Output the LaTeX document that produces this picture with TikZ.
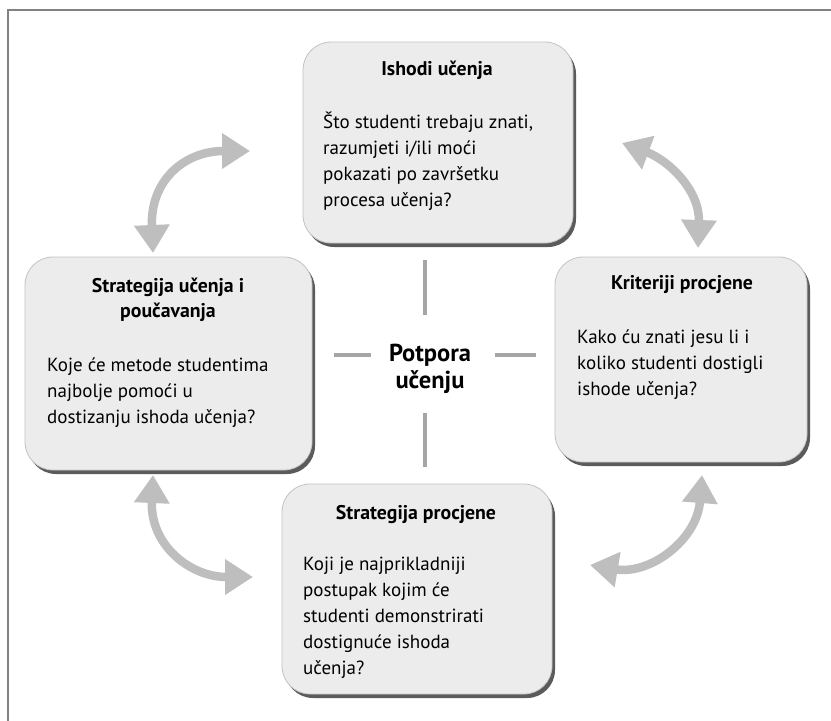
\documentclass[tikz,border=0pt]{standalone}
\usepackage{fontspec}
\setmainfont{PT Sans}
\usetikzlibrary{arrows.meta,shadows}
\definecolor{arrowgray}{RGB}{190,190,190}
\definecolor{spokegray}{RGB}{165,165,165}
\definecolor{boxfill}{RGB}{236,236,236}
\definecolor{boxline}{RGB}{195,195,195}
\definecolor{framegray}{RGB}{130,130,130}
\begin{document}
\begin{tikzpicture}[x=1pt,y=-1pt,
  box/.style={draw=boxline, line width=0.8pt, fill=boxfill, rounded corners=28pt,
    drop shadow={shadow xshift=3pt, shadow yshift=-4pt, fill=black!80, opacity=0.8},
    inner sep=0pt},
  boxtitle/.style={font=\fontsize{19.8}{25}\selectfont\bfseries, align=center, inner sep=0pt},
  boxbody/.style={font=\fontsize{19}{26}\selectfont, align=left, anchor=west, inner sep=0pt},
  centertext/.style={font=\fontsize{24.5}{27}\selectfont\bfseries, align=center, inner sep=0pt},
  biarrow/.style={draw=arrowgray, line width=8.5pt,
    {Triangle[length=28pt,width=34pt]}-{Triangle[length=28pt,width=34pt]}},
  spoke/.style={draw=spokegray, line width=4pt}]
\useasboundingbox (0,0) rectangle (831,721);
\fill[white] (0,0) rectangle (831,721);
% frame
\draw[framegray, line width=1.5pt] (8,721) -- (8,10) -- (831,10);

% boxes
\node[box, minimum width=270pt, minimum height=201pt] (T) at (438,142.5) {};
\node[box, minimum width=287pt, minimum height=213pt] (L) at (168.5,363.5) {};
\node[box, minimum width=252pt, minimum height=205pt] (R) at (681,359.5) {};
\node[box, minimum width=270pt, minimum height=210pt] (B) at (417,589) {};

% texts
\node[boxtitle] (Tt) at (437,70) {Ishodi učenja};
\node[boxbody] (Tb) at (323,161.5) {Što studenti trebaju znati,\\razumjeti i/ili moći\\pokazati po završetku\\procesa učenja?};

\node[boxtitle] (Lt) at (168,299.5) {Strategija učenja i\\poučavanja};
\node[boxbody] (Lb) at (47,392.5) {Koje će metode studentima\\najbolje pomoći u\\dostizanju ishoda učenja?};

\node[boxtitle] (Rt) at (682,285) {Kriteriji procjene};
\node[boxbody] (Rb) at (577,365) {Kako ću znati jesu li i\\koliko studenti dostigli\\ishode učenja?};

\node[boxtitle] (Bt) at (416,515) {Strategija procjene};
\node[boxbody] (Bb) at (303,617.5) {Koji je najprikladniji\\postupak kojim će\\studenti demonstrirati\\dostignuće ishoda\\učenja?};

\node[centertext] (C) at (430,368.5) {Potpora\\učenju};

% spokes
\coordinate (s1a) at (425,260); \coordinate (s1b) at (425,315);
\coordinate (s2a) at (425,413); \coordinate (s2b) at (425,467);
\coordinate (s3a) at (334,355); \coordinate (s3b) at (371,355);
\coordinate (s4a) at (495,355); \coordinate (s4b) at (536,355);
\draw[spoke] (s1a) -- (s1b);
\draw[spoke] (s2a) -- (s2b);
\draw[spoke] (s3a) -- (s3b);
\draw[spoke] (s4a) -- (s4b);

% curved double arrows
\coordinate (a1s) at (153,253); \coordinate (a1e) at (250,151);
\coordinate (a2s) at (622,143); \coordinate (a2e) at (698,248);
\coordinate (a3s) at (153,475); \coordinate (a3e) at (253,577);
\coordinate (a4s) at (702,475); \coordinate (a4e) at (590,565);
\draw[biarrow] (a1s) .. controls (150,180) and (185,151) .. (a1e);
\draw[biarrow] (a2s) .. controls (668,160) and (700,190) .. (a2e);
\draw[biarrow] (a3s) .. controls (150,545) and (190,577) .. (a3e);
\draw[biarrow] (a4s) .. controls (697,540) and (650,575) .. (a4e);
\end{tikzpicture}
\end{document}
